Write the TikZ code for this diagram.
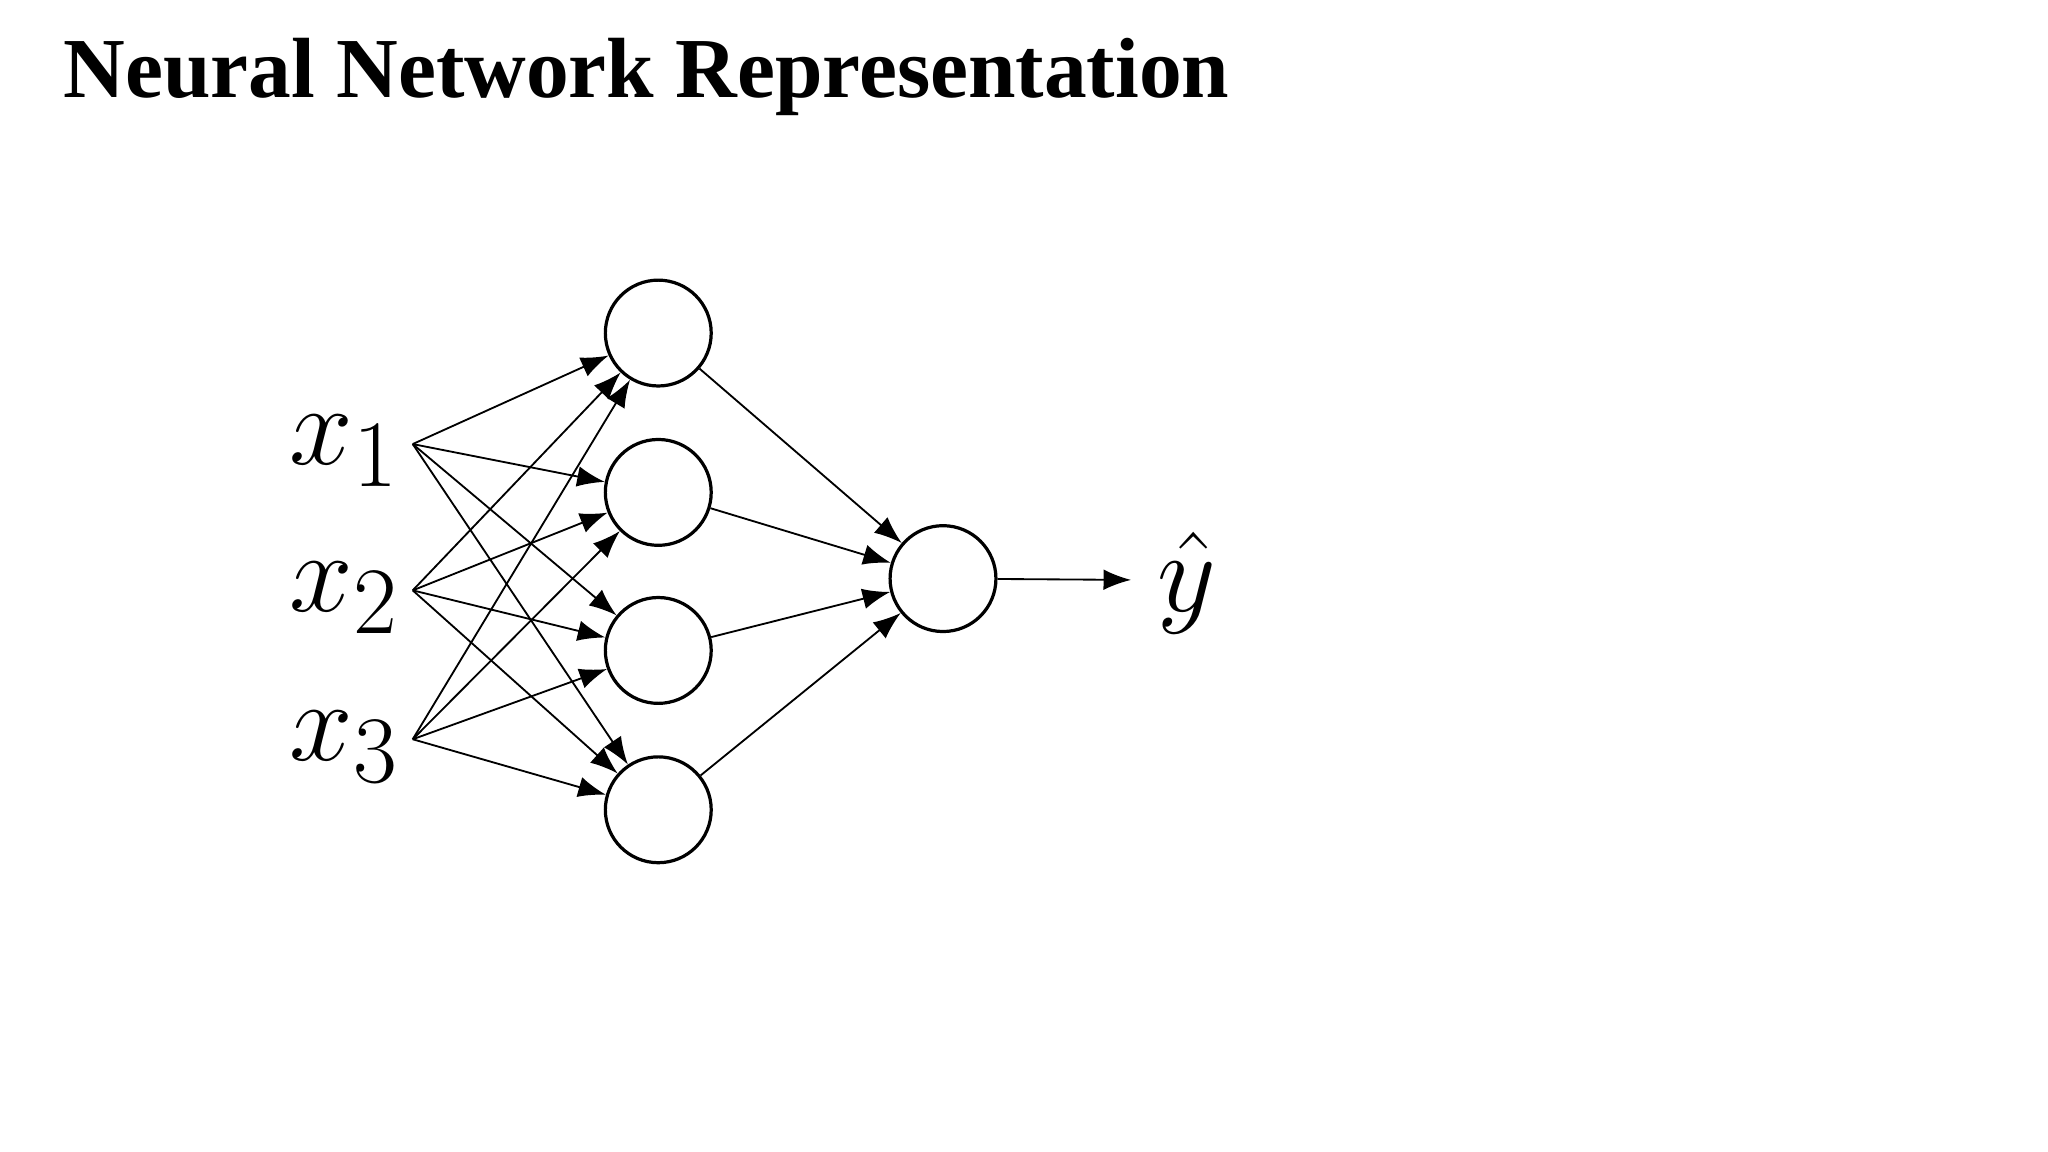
\documentclass[tikz,border=0pt]{standalone}
\usepackage{fontspec}
\setmainfont{Liberation Serif}
\usetikzlibrary{arrows.meta}
\begin{document}
\begin{tikzpicture}[x=0.01cm,y=-0.01cm,
  neuron/.style={draw,line width=0.7pt,circle,minimum size=0.81cm,inner sep=0pt},
  conn/.style={line width=0.4pt,-{Latex[length=6pt,width=4.5pt]}},
  lab/.style={font=\fontsize{30}{30}\selectfont,anchor=east}]
\useasboundingbox (0,0) rectangle (1568,882);
\node[anchor=base west,inner sep=0pt,font=\bfseries\fontsize{18.6}{20}\selectfont] (title) at (48,75) {Neural Network Representation};
\node[neuron] (h1) at (504,255) {};
\node[neuron] (h2) at (504,377) {};
\node[neuron] (h3) at (504,498) {};
\node[neuron] (h4) at (504,620) {};
\node[neuron] (o) at (722,443) {};
\coordinate (i1) at (316,340);
\coordinate (i2) at (316,452);
\coordinate (i3) at (316,566);
\coordinate (yend) at (866,444);
\node[lab] (x1) at (318,345) {$x_{1}$};
\node[lab] (x2) at (318,458) {$x_{2}$};
\node[lab] (x3) at (318,572) {$x_{3}$};
\node[anchor=west,font=\fontsize{30}{30}\selectfont] (yh) at (874,446) {$\hat{y}$};
\foreach \i in {i1,i2,i3}{\foreach \h in {h1,h2,h3,h4}{\draw[conn] (\i) -- (\h);}}
\foreach \h in {h1,h2,h3,h4}{\draw[conn] (\h) -- (o);}
\draw[conn] (o) -- (yend);
\end{tikzpicture}
\end{document}
